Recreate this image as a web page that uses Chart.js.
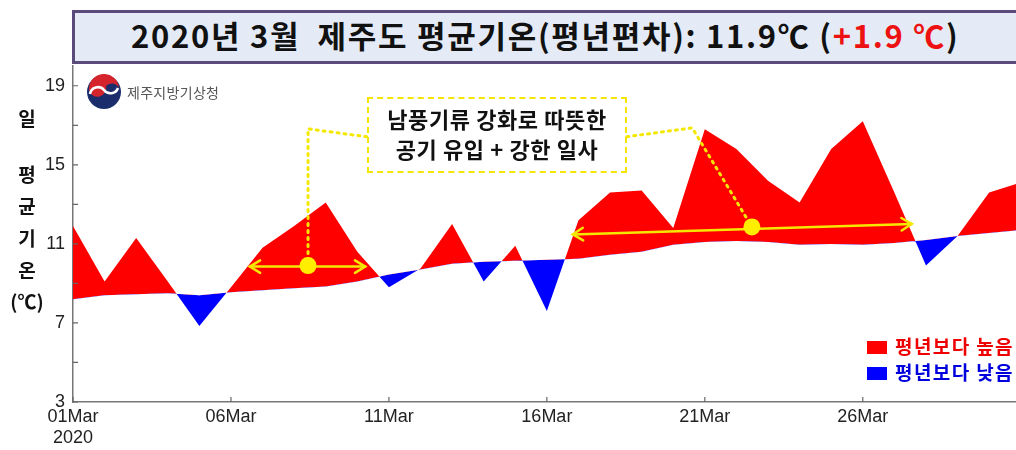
<!DOCTYPE html>
<html>
<head>
<meta charset="utf-8">
<script src="https://cdn.jsdelivr.net/npm/chart.js@4.4.1/dist/chart.umd.min.js"></script>
<style>
  body { margin: 0; background: #fff; overflow: hidden; }
  #wrap { position: relative; width: 1016px; height: 450px; font-family: "Noto Sans CJK KR", sans-serif; }
  #chart { position: absolute; left: 0; top: 0; }
  .title {
    position: absolute; left: 72px; top: 10px; width: 960px; height: 48px;
    background: #e4ebf6; border: 3px solid #5b4a7c; box-sizing: content-box;
    font-weight: bold; font-size: 31px; line-height: 48px; color: #111;
    white-space: nowrap;
  }
  .title span.t { position: absolute; left: 56px; top: -2px; letter-spacing: 1.7px; }
  .title .red { color: #ee1111; }
  .logo { position: absolute; left: 86px; top: 74px; }
  .logoText { position: absolute; left: 127px; top: 82px; font-size: 14px; color: #555; letter-spacing: 0.3px; }
  .ylab { position: absolute; width: 50px; text-align: center; left: 2px; font-weight: bold; font-size: 19px; color: #111; }
  .note {
    position: absolute; left: 367px; top: 97px; width: 256px; height: 68px;
    border: 2px dashed #f4e600; text-align: center; font-weight: bold; font-size: 22px;
    line-height: 30px; color: #111; padding-top: 4px; box-sizing: content-box; white-space: nowrap;
    letter-spacing: 0.6px;
  }
  .leg { position: absolute; left: 867px; font-weight: bold; font-size: 19px; white-space: nowrap; letter-spacing: 1.4px; }
  .leg i { display: inline-block; width: 20px; height: 13px; margin-right: 8px; vertical-align: 0px; }
</style>
</head>
<body>
<div id="wrap">
  <canvas id="chart" width="1016" height="450"></canvas>
  <div class="title"><span class="t">2020년 3월&nbsp;&nbsp;제주도 평균기온(평년편차): 11.9℃ (<span class="red">+1.9 ℃</span>)</span></div>
  <svg class="logo" width="36" height="36" viewBox="0 0 36 36">
    <circle cx="18" cy="18" r="17" fill="#1b2e6b"/>
    <path d="M3 16 A15 15 0 0 1 33 14 A8 8 0 0 0 20 12 A8 8 0 0 1 3 16 Z" fill="#d6242d"/>
    <path d="M4 20 A8 8 0 0 1 18 16 A8 8 0 0 0 32 14" fill="none" stroke="#fff" stroke-width="2.5"/>
  </svg>
  <div class="logoText">제주지방기상청</div>
  <div class="ylab" style="top:104px">일</div>
  <div class="ylab" style="top:160px">평</div>
  <div class="ylab" style="top:192px">균</div>
  <div class="ylab" style="top:224px">기</div>
  <div class="ylab" style="top:256px">온</div>
  <div class="ylab" style="top:287px">(℃)</div>
  <div class="note">남풍기류 강화로 따뜻한<br>공기 유입 + 강한 일사</div>
  <div class="leg" style="top:332px;color:#ee0000"><i style="background:#ff0000"></i>평년보다 높음</div>
  <div class="leg" style="top:358px;color:#0000dd"><i style="background:#0000ff"></i>평년보다 낮음</div>
</div>
<script>
// day of March (1..31)
const days = [1,2,3,4,5,6,7,8,9,10,11,12,13,14,15,16,17,18,19,20,21,22,23,24,25,26,27,28,29,30,31];
// daily mean temperature (deg C)
const dailyTemp = [11.9,9.1,11.3,9.1,6.85,8.8,10.8,11.9,13.1,10.6,8.8,9.75,12.0,9.1,10.9,7.6,12.2,13.6,13.7,11.8,16.8,15.8,14.2,13.1,15.8,17.2,13.6,9.9,11.4,13.6,14.1];
// normal (climatology) daily mean
const normalTemp = [8.2,8.4,8.45,8.5,8.4,8.55,8.65,8.75,8.85,9.1,9.45,9.7,10.0,10.1,10.15,10.2,10.25,10.45,10.6,10.95,11.1,11.15,11.1,10.95,11.0,10.95,11.05,11.2,11.4,11.55,11.7];

const xTickDays = [0,5,10,15,20,25];
const xTickLabels = [["01Mar","2020"],"06Mar","11Mar","16Mar","21Mar","26Mar"];
const yTicks = [3,5,7,9,11,13,15,17,19];
const yTickLabels = [3,7,11,15,19];

const toPts = arr => arr.map((v, i) => ({ x: days[i] - 1, y: v }));

// inward tick marks on both axes
const innerTicks = {
  id: "innerTicks",
  afterDraw(chart) {
    const { ctx, scales: { x, y }, chartArea: a } = chart;
    ctx.save();
    ctx.strokeStyle = "#666";
    ctx.lineWidth = 1.2;
    ctx.beginPath();
    yTicks.forEach(v => { const py = y.getPixelForValue(v); ctx.moveTo(a.left, py); ctx.lineTo(a.left + 5, py); });
    xTickDays.forEach(v => { const px = x.getPixelForValue(v); ctx.moveTo(px, a.bottom); ctx.lineTo(px, a.bottom - 5); });
    ctx.stroke();
    ctx.restore();
  }
};

// yellow arrows, dots and dotted leader lines
const notes = {
  id: "notes",
  afterDatasetsDraw(chart) {
    const { ctx, scales: { x, y } } = chart;
    const P = (d, t) => [x.getPixelForValue(d), y.getPixelForValue(t)];
    ctx.save();
    const yel = "#f5e800";
    // dotted leaders
    ctx.strokeStyle = yel;
    ctx.lineWidth = 3;
    ctx.setLineDash([2, 5]);
    ctx.lineCap = "round";
    const line = pts => { ctx.beginPath(); pts.forEach((p, i) => i ? ctx.lineTo(...p) : ctx.moveTo(...p)); ctx.stroke(); };
    line([P(9.3, 16.42), P(7.44, 16.82), P(7.44, 9.9)]);
    line([P(17.53, 16.42), P(19.6, 16.87), P(21.49, 11.86)]);
    ctx.setLineDash([]);
    // arrows
    const arrow = (a, b) => {
      ctx.lineWidth = 2.5;
      line([a, b]);
      [[a, b], [b, a]].forEach(([p, q]) => {
        const ang = Math.atan2(q[1] - p[1], q[0] - p[0]);
        ctx.beginPath();
        ctx.moveTo(p[0] + 12 * Math.cos(ang - 0.55), p[1] + 12 * Math.sin(ang - 0.55));
        ctx.lineTo(p[0], p[1]);
        ctx.lineTo(p[0] + 12 * Math.cos(ang + 0.55), p[1] + 12 * Math.sin(ang + 0.55));
        ctx.stroke();
      });
    };
    arrow(P(5.6, 9.85), P(9.25, 9.85));
    arrow(P(15.82, 11.48), P(26.55, 12.01));
    ctx.fillStyle = "#ffee00";
    [P(7.44, 9.9), P(21.49, 11.86)].forEach(p => { ctx.beginPath(); ctx.arc(p[0], p[1], 8.5, 0, Math.PI * 2); ctx.fill(); });
    ctx.restore();
  }
};

new Chart(document.getElementById("chart"), {
  type: "line",
  data: {
    datasets: [
      { label: "normal", data: toPts(normalTemp), borderColor: "rgba(0,0,0,0)", borderWidth: 0, pointRadius: 0, fill: false },
      { label: "temp", data: toPts(dailyTemp), borderColor: "rgba(0,0,0,0)", borderWidth: 0, pointRadius: 0,
        fill: { target: "-1", above: "#ff0000", below: "#0000ff" } }
    ]
  },
  options: {
    responsive: false,
    animation: false,
    layout: { padding: { top: 66, right: 0, left: 0, bottom: 0 } },
    plugins: { legend: { display: false }, tooltip: { enabled: false } },
    scales: {
      x: {
        type: "linear", min: 0, max: 29.85,
        afterBuildTicks: s => { s.ticks = xTickDays.map(v => ({ value: v })); },
        afterFit: s => { s.height = 48; },
        grid: { drawOnChartArea: false, drawTicks: false },
        border: { color: "#777", width: 1.5 },
        ticks: {
          padding: 4, color: "#222", maxRotation: 0, autoSkip: false,
          font: { family: "Liberation Sans, Arial", size: 18 },
          callback: (v) => xTickLabels[xTickDays.indexOf(v)]
        }
      },
      y: {
        min: 3, max: 20,
        afterBuildTicks: s => { s.ticks = yTicks.map(v => ({ value: v })); },
        afterFit: s => { s.width = 73; },
        grid: { drawOnChartArea: false, drawTicks: false },
        border: { color: "#777", width: 1.5 },
        ticks: {
          padding: 8, color: "#222",
          font: { family: "Liberation Sans, Arial", size: 18 },
          callback: v => yTickLabels.includes(v) ? String(v) : ""
        }
      }
    }
  },
  plugins: [innerTicks, notes]
});
</script>
</body>
</html>
